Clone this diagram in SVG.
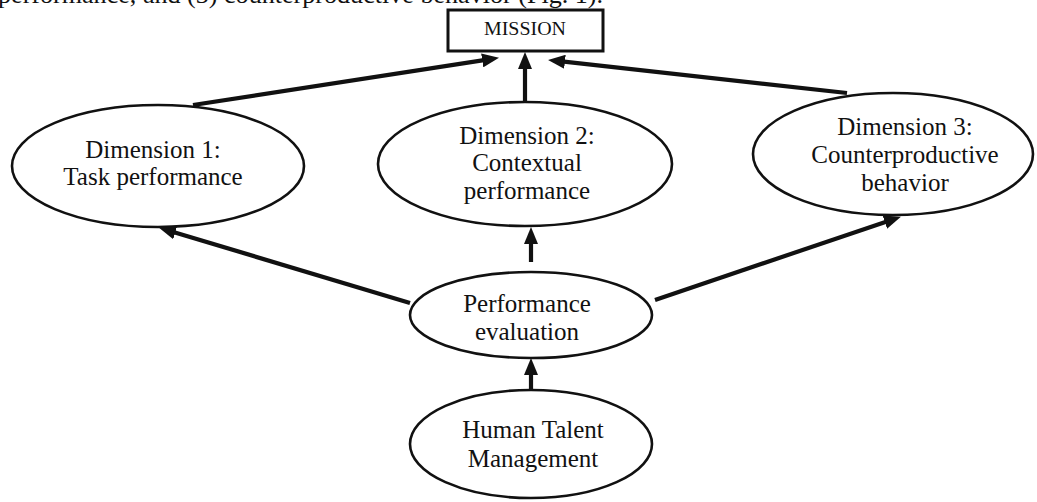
<svg xmlns="http://www.w3.org/2000/svg" width="1037" height="502" viewBox="0 0 1037 502">
<style>
.n{fill:#fff;stroke:#111;stroke-width:2.6}
.t{font-family:"Liberation Serif","Times New Roman",serif;font-size:25px;fill:#111;text-anchor:middle}
.c line{stroke:#111;stroke-width:4.2;marker-end:url(#ah)}
</style>
<defs>
<marker id="ah" markerUnits="userSpaceOnUse" viewBox="0 0 17 14" refX="10" refY="7" markerWidth="17" markerHeight="14" orient="auto">
<path d="M0,0 L17,7 L0,14 z" fill="#111"/>
</marker>
</defs>
<rect width="1037" height="502" fill="#fff"/>
<text x="-2" y="3" class="t" style="text-anchor:start" textLength="605" lengthAdjust="spacingAndGlyphs">performance, and (3) counterproductive behavior (Fig. 1).</text>
<g id="mission">
<rect x="448" y="10" width="155" height="41" fill="#fff" stroke="#111" stroke-width="3"/>
<text x="525" y="35" class="t" style="font-size:18px" textLength="82" lengthAdjust="spacingAndGlyphs">MISSION</text>
</g>
<g id="dim1">
<ellipse class="n" cx="158" cy="166" rx="146" ry="61"/>
<text class="t" x="153" y="158">Dimension 1:</text>
<text class="t" x="153" y="185">Task performance</text>
</g>
<g id="dim2">
<ellipse class="n" cx="525" cy="164" rx="147" ry="62"/>
<text class="t" x="527" y="144">Dimension 2:</text>
<text class="t" x="527" y="171">Contextual</text>
<text class="t" x="527" y="199">performance</text>
</g>
<g id="dim3">
<ellipse class="n" cx="893" cy="154" rx="140" ry="61"/>
<text class="t" x="905" y="135">Dimension 3:</text>
<text class="t" x="905" y="163">Counterproductive</text>
<text class="t" x="905" y="191">behavior</text>
</g>
<g id="perf">
<ellipse class="n" cx="531" cy="315" rx="121" ry="43"/>
<text class="t" x="527" y="312">Performance</text>
<text class="t" x="527" y="340">evaluation</text>
</g>
<g id="htm">
<ellipse class="n" cx="531" cy="444" rx="121" ry="54"/>
<text class="t" x="533" y="438">Human Talent</text>
<text class="t" x="533" y="467">Management</text>
</g>
<g id="connectors" class="c">
<line x1="193" y1="105" x2="492.1" y2="58.9"/>
<line x1="525" y1="102" x2="525" y2="59"/>
<line x1="847" y1="93" x2="555" y2="60.7"/>
<line x1="410" y1="303" x2="165.7" y2="229.7"/>
<line x1="531" y1="262" x2="531" y2="234"/>
<line x1="655" y1="300" x2="894.3" y2="218.9"/>
<line x1="531" y1="390" x2="531" y2="365"/>
</g>
</svg>
